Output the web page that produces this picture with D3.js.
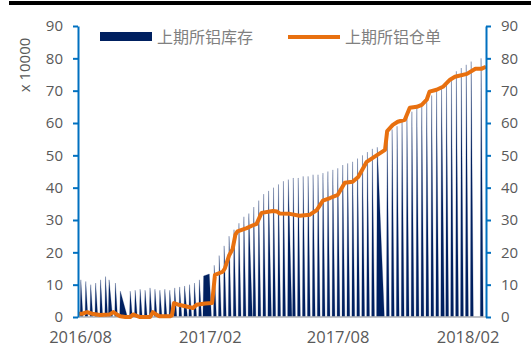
<!DOCTYPE html>
<html><head><meta charset="utf-8">
<script src="https://cdn.jsdelivr.net/npm/d3@7"></script>
<style>body{margin:0;background:#fff}svg{display:block}</style>
</head><body><svg id="c" width="531" height="349"></svg>
<script>
// ---------- data ----------
const seriesNames = ["上期所铝库存", "上期所铝仓单"];
const xTickDates = ["2016-08-01", "2017-02-01", "2017-08-01", "2018-02-01"];
const xTickLabels = ["2016/08", "2017/02", "2017/08", "2018/02"];
const yTicks = [0, 10, 20, 30, 40, 50, 60, 70, 80, 90];
const yLabel = "x 10000";

// weekly stock (万吨)
const stockDates = [
 "2016-08-05","2016-08-12","2016-08-19","2016-08-26","2016-09-02","2016-09-09","2016-09-14","2016-09-23","2016-09-30",
 "2016-10-14","2016-10-21","2016-10-28","2016-11-04","2016-11-11","2016-11-18","2016-11-25",
 "2016-12-02","2016-12-09","2016-12-16","2016-12-23","2016-12-30",
 "2017-01-06","2017-01-13","2017-01-20","2017-01-26","2017-02-03","2017-02-10","2017-02-17","2017-02-24",
 "2017-03-03","2017-03-10","2017-03-17","2017-03-24","2017-03-31","2017-04-07","2017-04-14","2017-04-21","2017-04-28",
 "2017-05-05","2017-05-12","2017-05-19","2017-05-26","2017-06-02","2017-06-09","2017-06-16","2017-06-23","2017-06-30",
 "2017-07-07","2017-07-14","2017-07-21","2017-07-28","2017-08-04","2017-08-11","2017-08-18","2017-08-25",
 "2017-09-01","2017-09-08","2017-09-15","2017-09-22","2017-09-29","2017-10-13","2017-10-20","2017-10-27",
 "2017-11-03","2017-11-10","2017-11-17","2017-11-24","2017-12-01","2017-12-08","2017-12-15","2017-12-22","2017-12-29",
 "2018-01-05","2018-01-12","2018-01-19","2018-01-26","2018-02-02","2018-02-09","2018-02-23"];
const stockValues = [
 11.5,11,10,10.5,11.5,12.5,11.5,10.5,8,
 8,8.3,8.6,8.3,9,8.6,8.3,
 8.6,8.3,9,9.3,9.6,
 10,10.5,11.5,12.7,13.3,16,19,22,
 25,27,29,31,32,34,36,38,39,
 40,41,42,42.5,43,43,43.5,43.5,44,
 44,44.5,45,45.5,46,47,47.5,48,
 49,50,51,52,52.5,56,58,59,
 61,62,63.5,65,66,67,68.5,70,71,
 72.5,74,76,77,78,79,80];

// exchange closed days (besides weekends)
const holidays = ["2016-09-15","2016-09-16","2016-10-03","2016-10-04","2016-10-05","2016-10-06","2016-10-07",
 "2017-01-02","2017-01-27","2017-01-30","2017-01-31","2017-02-01","2017-02-02","2017-04-03","2017-04-04",
 "2017-05-01","2017-05-29","2017-05-30","2017-10-02","2017-10-03","2017-10-04","2017-10-05","2017-10-06",
 "2018-01-01","2018-02-15","2018-02-16","2018-02-19","2018-02-20","2018-02-21"];

// warehouse receipts (万吨)
const receiptDates = [
 "2016-08-01","2016-08-07","2016-08-14","2016-08-21","2016-09-01","2016-09-15","2016-09-20","2016-09-25","2016-09-30",
 "2016-10-07","2016-10-14","2016-10-18","2016-10-24","2016-10-28","2016-11-11","2016-11-15","2016-11-21","2016-11-25",
 "2016-12-09","2016-12-12","2016-12-15","2016-12-23","2017-01-11","2017-01-16","2017-01-28","2017-02-07","2017-02-11",
 "2017-02-22","2017-02-25","2017-03-03","2017-03-08","2017-03-12","2017-03-15","2017-03-28","2017-04-05","2017-04-11",
 "2017-04-18","2017-05-04","2017-05-10","2017-05-14","2017-05-28","2017-06-11","2017-06-25","2017-07-05","2017-07-14",
 "2017-07-24","2017-08-04","2017-08-14","2017-08-25","2017-09-02","2017-09-14","2017-09-28","2017-10-10","2017-10-13",
 "2017-10-21","2017-10-28","2017-11-07","2017-11-14","2017-11-24","2017-12-01","2017-12-08","2017-12-12","2017-12-22",
 "2017-12-31","2018-01-10","2018-01-17","2018-02-03","2018-02-15","2018-02-24","2018-03-02"];
const receiptValues = [
 1.0,1.0,1.5,1.0,0.6,0.8,1.5,0.8,0.2,
 0,0,0.8,0.3,0,0,1.5,0.6,0.2,
 0.2,0.5,4.3,3.7,2.8,3.8,4.2,4.3,13,
 14,15,19,21,25.5,26.5,27.5,28.3,28.8,
 32.2,32.8,32.6,32.0,31.9,31.3,31.6,33,36,
 36.8,37.8,41.5,41.8,43.3,48,50,51.7,57.5,
 59.4,60.4,61,64.7,65,65.6,67.2,69.7,70.3,
 71.2,73.4,74.3,75.2,76.8,76.8,77.4];

// ---------- drawing ----------
const parse = d3.utcParse("%Y-%m-%d");
const svg = d3.select("#c");
const W = 531, H = 349;
const plot = {left: 78, right: 486, top: 26, bottom: 317};
const x = d3.scaleUtc().domain([parse("2016-08-01"), parse("2018-03-02")]).range([plot.left, plot.right]);
const y = d3.scaleLinear().domain([0, 90]).range([plot.bottom, plot.top]);

const gray = "#595959", axisBlue = "#0070C0", navy = "#002060", orange = "#E8700F";
const font = "'Open Sans', 'Liberation Sans', sans-serif";
const cjk = "'Noto Sans CJK SC', sans-serif";

// top border
svg.append("line").attr("x1", 9).attr("x2", W).attr("y1", 3).attr("y2", 3)
  .attr("stroke", "#000").attr("stroke-width", 4);

// trading-day helpers
const hol = new Set(holidays);
const key = d3.utcFormat("%Y-%m-%d");
const isTrading = d => { const wd = d.getUTCDay(); return wd !== 0 && wd !== 6 && !hol.has(key(d)); };
const stepTrading = (d, dir) => { let t = d3.utcDay.offset(d, dir); while (!isTrading(t)) t = d3.utcDay.offset(t, dir); return t; };

// build spike area: blank days between weekly reports count as zero
const sd = stockDates.map(parse);
const pts = [];
sd.forEach((d, i) => {
  const connectedPrev = i > 0 && +stepTrading(sd[i-1], 1) === +d;
  const connectedNext = i < sd.length - 1 && +stepTrading(d, 1) === +sd[i+1];
  if (!connectedPrev) pts.push([stepTrading(d, -1), 0]);
  pts.push([d, stockValues[i]]);
  if (!connectedNext) pts.push([stepTrading(d, 1), 0]);
});
const area = d3.area().x(p => x(p[0])).y0(y(0)).y1(p => y(p[1]));
svg.append("path").datum(pts).attr("d", area).attr("fill", navy)
  .attr("stroke", navy).attr("stroke-width", 0.25).attr("stroke-linejoin", "bevel");

// x baseline
svg.append("line").attr("x1", plot.left).attr("x2", plot.right).attr("y1", y(0)).attr("y2", y(0))
  .attr("stroke", "#BFBFBF").attr("stroke-width", 1.5);

// receipts line
const line = d3.line().x((d, i) => x(parse(receiptDates[i]))).y(d => y(d));
svg.append("path").datum(receiptValues).attr("d", line).attr("fill", "none")
  .attr("stroke", orange).attr("stroke-width", 4).attr("stroke-linejoin", "round");

// y axes
const yl = svg.append("g").attr("transform", `translate(${plot.left},0)`)
  .call(d3.axisLeft(y).tickValues(yTicks).tickSize(5).tickSizeOuter(0).tickPadding(10));
const yr = svg.append("g").attr("transform", `translate(${plot.right},0)`)
  .call(d3.axisRight(y).tickValues(yTicks).tickSize(5).tickSizeOuter(0).tickPadding(10));
[yl, yr].forEach(g => {
  g.select(".domain").attr("stroke", axisBlue).attr("stroke-width", 2);
  g.selectAll(".tick line").attr("stroke", axisBlue).attr("stroke-width", 2);
  g.selectAll(".tick text").attr("fill", gray).style("font-family", font).style("font-size", "15px");
});

// x axis labels
const xa = svg.append("g").attr("transform", `translate(0,${plot.bottom})`)
  .call(d3.axisBottom(x).tickValues(xTickDates.map(parse)).tickFormat((d, i) => xTickLabels[i]).tickSize(0).tickPadding(14));
xa.select(".domain").remove();
xa.selectAll(".tick text").attr("fill", gray).attr("dx", 2).style("font-family", font).style("font-size", "16.5px");

// y title
svg.append("text").attr("transform", "translate(30,65) rotate(-90)").attr("text-anchor", "middle")
  .attr("fill", gray).style("font-family", font).style("font-size", "15px").text(yLabel);

// legend
const lg = svg.append("g");
lg.append("rect").attr("x", 100).attr("y", 32).attr("width", 52).attr("height", 9).attr("fill", navy);
lg.append("text").attr("x", 157).attr("y", 43).attr("fill", "#808080").style("font-family", cjk)
  .style("font-size", "16px").text(seriesNames[0]);
lg.append("line").attr("x1", 288).attr("x2", 340).attr("y1", 37).attr("y2", 37)
  .attr("stroke", orange).attr("stroke-width", 4);
lg.append("text").attr("x", 345).attr("y", 43).attr("fill", "#808080").style("font-family", cjk)
  .style("font-size", "16px").text(seriesNames[1]);
</script></body></html>
